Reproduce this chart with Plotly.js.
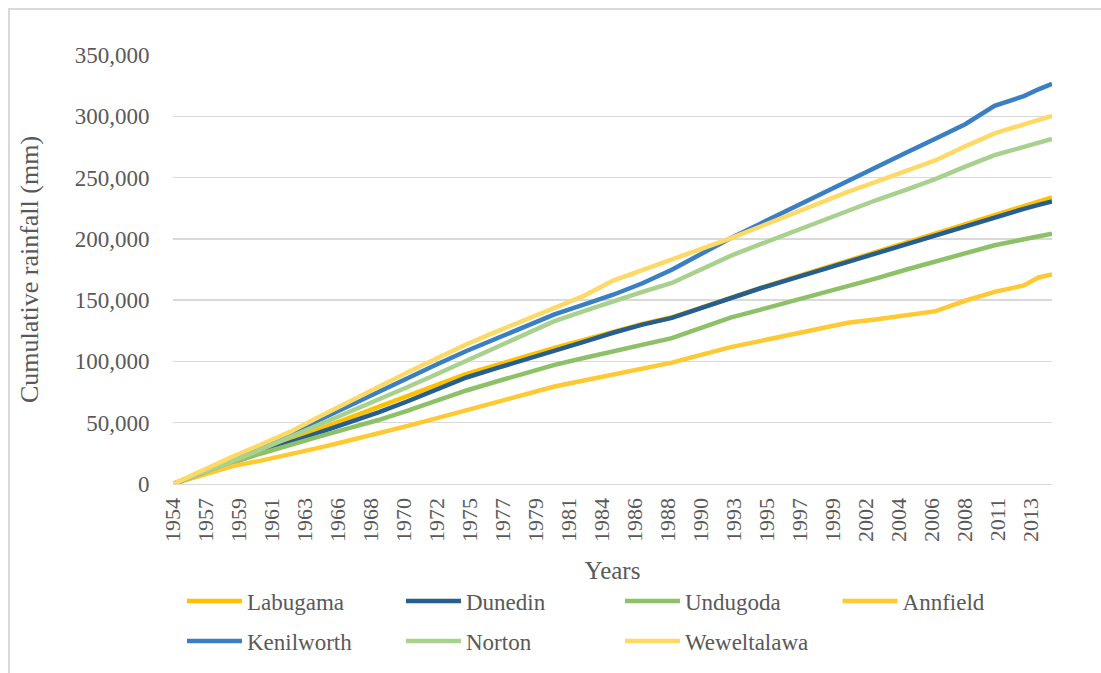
<!DOCTYPE html>
<html>
<head>
<meta charset="utf-8">
<script src="https://cdn.plot.ly/plotly-3.0.1.min.js"></script>
<style>
  html, body { margin:0; padding:0; background:#ffffff; }
  #frame { position:absolute; left:8px; top:8px; width:1200px; height:800px;
           border-left:2px solid #d9d9d9; border-top:2px solid #d9d9d9; }
  #chart { position:absolute; left:0; top:0; width:1101px; height:673px; }
</style>
</head>
<body>
<div id="frame"></div>
<div id="chart"></div>
<script>
// Sample dates (hydrological months, Oct 1954 - Sep 2014)
const dates = ['1954-10-01','1956-10-01','1958-10-01','1960-10-01','1962-10-01','1964-10-01',
  '1966-10-01','1968-10-01','1970-10-01','1972-10-01','1974-10-01','1976-10-01','1978-10-01',
  '1980-10-01','1982-10-01','1984-10-01','1986-10-01','1988-10-01','1990-10-01','1992-10-01',
  '1994-10-01','1996-10-01','1998-10-01','2000-10-01','2002-10-01','2004-10-01','2006-10-01',
  '2008-10-01','2010-10-01','2012-10-01','2013-10-01','2014-09-01'];

// Cumulative rainfall (mm)
const labugama = [0,8900,17800,26600,35400,44600,53700,62900,71900,80800,89800,97000,104100,
  111000,117500,124000,130500,136000,144000,152300,159800,167300,174700,182200,189500,196700,
  204100,211900,219600,226900,230500,233800];
const dunedin = [0,8900,17700,25800,34000,42100,50300,58400,67500,77200,86900,94300,101300,
  108400,115900,123400,130000,135500,143700,152200,159500,166800,174000,181200,188500,195700,
  203100,210700,218100,224500,227700,230600];
const undugoda = [0,8700,17300,24900,32300,38900,45600,52200,59800,68100,76300,83400,90500,
  97200,102800,108300,113700,119000,127400,135800,142100,148500,154800,161100,168000,175000,
  181800,188400,194800,199700,202100,204300];
const annfield = [0,7400,14400,19100,24000,29700,35500,41200,47400,53800,60200,66700,73300,
  79500,84500,89500,94300,99000,105400,111700,116600,121600,126500,131500,134400,137400,
  141000,149500,156800,162000,168500,170900];
const kenilworth = [0,9000,18400,29800,41200,52700,64200,75700,86800,97700,108500,118700,128700,
  138300,146300,154400,163800,174800,187700,200500,212200,224000,235800,247500,258900,270400,
  281900,293500,308500,316500,322000,326400];
const norton = [0,9000,18200,28200,38300,48400,58600,68700,79100,89800,100400,111400,122400,
  132900,141000,149000,156700,164000,175100,186100,195500,204800,214100,223400,231900,240200,
  249000,258900,268300,275100,278500,281600];
const weweltalawa = [0,11100,22000,32200,42700,55000,67200,79400,91100,102500,113900,124100,134100,
  144200,153500,166000,174500,182500,191400,200400,209900,219400,228800,238300,246800,255200,
  264200,275500,286100,293400,297000,300300];

const seriesNames = ['Labugama','Dunedin','Undugoda','Annfield','Kenilworth','Norton','Weweltalawa'];
const seriesValues = [labugama, dunedin, undugoda, annfield, kenilworth, norton, weweltalawa];
const seriesColors = ['#FFC000','#255E91','#8CC168','#FFC933','#3A7FC3','#A9D18E','#FFD966'];
const seriesLegend = ['legend','legend','legend','legend3','legend2','legend2','legend2'];

// Tick labels (every 27 months starting Oct 1954)
const tickLabels = ['1954','1957','1959','1961','1963','1966','1968','1970','1972','1975','1977',
  '1979','1981','1984','1986','1988','1990','1993','1995','1997','1999','2002','2004','2006',
  '2008','2011','2013'];

function pad(n){ return (n<10?'0':'') + n; }
const tickVals = tickLabels.map((_, k) => {
  const d = new Date(Date.UTC(1954, 9 + 27*k, 1));
  return d.getUTCFullYear() + '-' + pad(d.getUTCMonth()+1) + '-01';
});

const font = 'Liberation Serif';
const txt = '#595959';

const traces = seriesNames.map((n, i) => ({
  type: 'scatter', mode: 'lines', name: n,
  x: dates, y: seriesValues[i],
  line: { color: seriesColors[i], width: 4.5 },
  legend: seriesLegend[i]
}));

const legendCommon = {
  orientation: 'h', xanchor: 'left', yanchor: 'middle',
  itemwidth: 55,
  entrywidth: 149, entrywidthmode: 'pixels',
  font: { family: font, size: 23, color: txt },
  bgcolor: 'rgba(0,0,0,0)', itemclick: false
};

const layout = {
  width: 1101, height: 673,
  margin: { l: 173, r: 49, t: 55, b: 188 },
  paper_bgcolor: 'rgba(0,0,0,0)',
  plot_bgcolor: 'rgba(0,0,0,0)',
  font: { family: font, color: txt },
  showlegend: true,
  xaxis: {
    type: 'date',
    range: ['1954-10-01', '2014-09-01'],
    tickmode: 'array', tickvals: tickVals, ticktext: tickLabels,
    tickangle: -90,
    tickfont: { family: font, size: 22, color: txt },
    ticks: 'outside', ticklen: 4, tickcolor: 'rgba(0,0,0,0)',
    showgrid: false, zeroline: false,
    showline: true, linecolor: '#d9d9d9', linewidth: 1.3,
    title: { text: 'Years', font: { family: font, size: 25, color: txt }, standoff: 20 }
  },
  yaxis: {
    range: [0, 350000], dtick: 50000, tick0: 0,
    tickformat: ',d',
    tickfont: { family: font, size: 23, color: txt },
    ticks: 'outside', ticklen: 18, tickcolor: 'rgba(0,0,0,0)',
    showgrid: true, gridcolor: '#d9d9d9', gridwidth: 1.3,
    zeroline: false, showline: false,
    title: { text: 'Cumulative rainfall (mm)', font: { family: font, size: 26, color: txt }, standoff: 28 }
  },
  legend: Object.assign({ x: 0.0102, y: -0.2698 }, legendCommon),
  legend3: Object.assign({ x: 0.756, y: -0.2698 }, legendCommon),
  legend2: Object.assign({ x: 0.0102, y: -0.3628 }, legendCommon)
};

Plotly.newPlot('chart', traces, layout, { displayModeBar: false, staticPlot: true });
</script>
</body>
</html>
